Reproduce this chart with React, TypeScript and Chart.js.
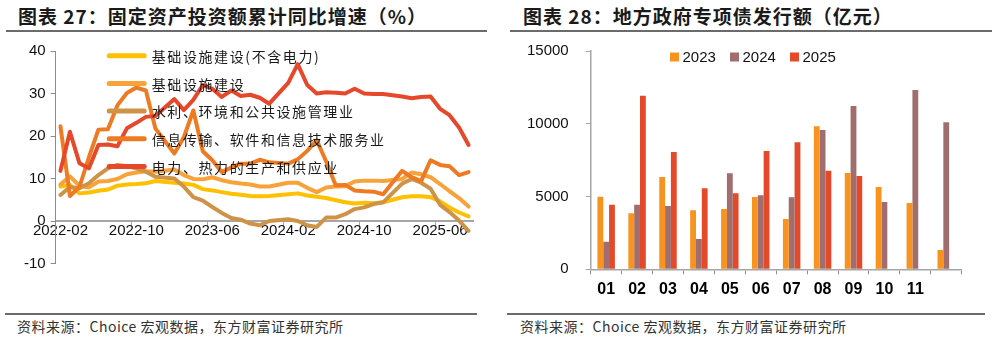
import React, { useEffect, useRef } from 'react';
import { Chart, registerables } from 'chart.js';

Chart.register(...registerables);

// ---------- Left chart data: 固定资产投资额累计同比增速（%） ----------
const months: string[] = [
  '2022-02', '2022-03', '2022-04', '2022-05', '2022-06', '2022-07', '2022-08', '2022-09', '2022-10', '2022-11', '2022-12',
  '2023-01', '2023-02', '2023-03', '2023-04', '2023-05', '2023-06', '2023-07', '2023-08', '2023-09', '2023-10', '2023-11', '2023-12',
  '2024-01', '2024-02', '2024-03', '2024-04', '2024-05', '2024-06', '2024-07', '2024-08', '2024-09', '2024-10', '2024-11', '2024-12',
  '2025-01', '2025-02', '2025-03', '2025-04', '2025-05', '2025-06', '2025-07', '2025-08', '2025-09',
];
const monthTickEvery = 8;

const infraExPower: (number | null)[] = [
  8.1, 8.5, 6.5, 6.7, 7.1, 7.4, 8.3, 8.6, 8.7, 8.9, 9.4,
  null, 9.0, 8.8, 8.5, 7.5, 7.2, 6.8, 6.4, 6.2, 5.9, 5.8, 5.9,
  null, 6.3, 6.5, 6.0, 5.7, 5.4, 4.9, 4.4, 4.1, 4.3, 4.2, 4.4,
  null, 5.6, 5.8, 5.8, 5.6, 4.6, 3.2, 2.0, 1.1,
];
const infraTotal: (number | null)[] = [
  8.6, 10.5, 8.3, 7.9, 9.3, 9.4, 9.9, 11.0, 11.4, 11.7, 11.6,
  null, 12.1, 10.8, 9.9, 9.8, 10.3, 9.6, 9.1, 8.8, 8.6, 8.1, 8.1,
  null, 9.0, 9.0, 7.8, 6.8, 7.9, 8.1, 8.2, 9.3, 9.5, 9.5, 9.4,
  null, 9.9, 11.4, 11.0, 10.3, 8.7, 7.0, 5.4, 3.4,
];
const waterEnv: (number | null)[] = [
  6.1, 8.0, 7.7, 8.9, 10.8, 12.4, 13.2, 12.9, 12.4, 11.6, 10.4,
  null, 10.0, 8.1, 5.6, 4.8, 3.3, 1.9, 0.7, 0.3, -0.6, -1.0, 0.0,
  null, 0.4, 0.0, -1.0, -1.4, 0.8, 0.8, 1.6, 2.8, 3.2, 4.0, 4.4,
  null, 8.8, 9.9, 9.0, 7.6, 3.8, 2.1, 0.1, -2.3,
];
const infoTech: (number | null)[] = [
  22.3, 5.9, 8.0, 15.0, 21.5, 21.6, 27.2, 30.1, 31.4, 30.7, 21.8,
  null, 15.9, 19.7, 26.0, 16.4, 14.3, 11.5, 12.6, 13.5, 13.5, 14.4, 13.8,
  null, 13.5, 14.5, 16.5, 19.0, 14.0, 8.4, 8.5, 7.2, 7.0, 6.9, 6.3,
  null, 11.8, 10.3, 9.4, 14.3, 13.2, 12.9, 10.8, 11.5,
];
const powerHeat: (number | null)[] = [
  11.8, 21.0, 13.6, 12.4, 17.9, 18.0, 17.6, 21.8, 23.1, 24.5, 24.7,
  null, 28.7, 26.1, 28.5, 32.0, 31.1, 29.2, 30.7, 29.4, 29.7, 29.0, 27.6,
  null, 32.5, 36.9, 32.0, 30.0, 30.3, 30.2, 30.0, 31.1, 30.0, 29.9, 29.9,
  null, 29.3, 28.9, 29.2, 29.3, 26.4, 24.9, 22.0, 17.9,
];
const lineNames: string[] = [
  '基础设施建设(不含电力)',
  '基础设施建设',
  '水利、环境和公共设施管理业',
  '信息传输、软件和信息技术服务业',
  '电力、热力的生产和供应业',
];
const lineSeries = [infraExPower, infraTotal, waterEnv, infoTech, powerHeat];
const lineColors: string[] = ['#FFC000', '#F8A23A', '#CF9348', '#EE7B24', '#E5482A'];
const pctTicks = { min: -10, max: 40, step: 10 };

// ---------- Right chart data: 地方政府专项债发行额（亿元） ----------
const bondMonths: string[] = ['01', '02', '03', '04', '05', '06', '07', '08', '09', '10', '11', ''];
const bond2023: (number | null)[] = [4990, 3850, 6340, 4055, 4145, 4970, 3455, 9825, 6615, 5655, 4555, 1325];
const bond2024: (number | null)[] = [1900, 4440, 4350, 2080, 6595, 5085, 4945, 9570, 11220, 4625, 12320, 10100];
const bond2025: (number | null)[] = [4440, 11930, 8060, 5565, 5220, 8130, 8730, 6775, 6410, null, null, null];
const bondYears: string[] = ['2023', '2024', '2025'];
const bondColors: string[] = ['#F7931E', '#A06E6E', '#E4492A'];
const bondTicks = { min: 0, max: 15000, step: 5000 };

const TICK_FONT = '"Liberation Sans", Arial, sans-serif';
const CJK_FONT = '"Noto Sans CJK SC", sans-serif';
const AXIS_GRAY = '#A6A6A6';

const lineLegendPlugin = {
  id: 'lineLegendInside',
  afterDraw(chart: any) {
    const { ctx, chartArea } = chart;
    ctx.save();
    chart.data.datasets.forEach((ds: any, i: number) => {
      const y = chartArea.top + 4.7 + i * 27.7;
      const x0 = chartArea.left + 53.5;
      ctx.strokeStyle = ds.borderColor;
      ctx.lineWidth = 5;
      ctx.lineCap = 'round';
      ctx.beginPath();
      ctx.moveTo(x0, y);
      ctx.lineTo(x0 + 35, y);
      ctx.stroke();
      ctx.fillStyle = '#1a1a1a';
      ctx.font = '14px ' + CJK_FONT;
      (ctx as any).letterSpacing = '1.6px';
      ctx.textBaseline = 'middle';
      ctx.textAlign = 'left';
      ctx.fillText(ds.label, x0 + 42.5, y + 1);
    });
    ctx.restore();
  },
};

const barLegendPlugin = {
  id: 'barLegendInside',
  afterDraw(chart: any) {
    const { ctx, chartArea } = chart;
    ctx.save();
    chart.data.datasets.forEach((ds: any, i: number) => {
      const x = chartArea.left + 79.3 + i * 60;
      const y = chartArea.top + 6;
      ctx.fillStyle = ds.backgroundColor;
      ctx.fillRect(x, y - 4.5, 9, 9);
      ctx.fillStyle = '#111';
      ctx.font = '15px ' + TICK_FONT;
      ctx.textBaseline = 'middle';
      ctx.textAlign = 'left';
      ctx.fillText(ds.label, x + 12.5, y + 0.5);
    });
    ctx.restore();
  },
};

function LineChart() {
  const ref = useRef<HTMLCanvasElement | null>(null);
  useEffect(() => {
    if (!ref.current) return;
    const chart = new Chart(ref.current, {
      type: 'line',
      data: {
        labels: months,
        datasets: lineSeries.map((s, i) => ({
          label: lineNames[i],
          data: s,
          borderColor: lineColors[i],
          backgroundColor: lineColors[i],
          borderWidth: 4,
          pointRadius: 0,
          tension: 0,
          spanGaps: true,
          borderJoinStyle: 'round' as const,
          borderCapStyle: 'round' as const,
          order: lineSeries.length - i,
        })),
      },
      options: {
        animation: false,
        responsive: false,
        maintainAspectRatio: false,
        layout: { padding: { left: 0, right: 16.7, top: 13, bottom: 19.5 } },
        plugins: { legend: { display: false }, tooltip: { enabled: false }, title: { display: false } },
        scales: {
          x: {
            type: 'category',
            position: { y: 0 } as any,
            offset: true,
            grid: {
              offset: true,
              drawOnChartArea: false,
              tickLength: 5,
              color: (c: any) => (typeof c.index === 'number' && c.index % monthTickEvery === 0 ? AXIS_GRAY : 'rgba(0,0,0,0)'),
            },
            border: { color: AXIS_GRAY, width: 2 },
            ticks: {
              autoSkip: false,
              maxRotation: 0,
              minRotation: 0,
              padding: -4,
              color: '#111',
              font: { family: TICK_FONT, size: 15 },
              callback: (_v: any, idx: number) => (idx % monthTickEvery === 0 ? months[idx] : ''),
            },
          },
          y: {
            min: pctTicks.min,
            max: pctTicks.max,
            ticks: {
              stepSize: pctTicks.step,
              padding: 5,
              color: '#111',
              font: { family: TICK_FONT, size: 15 },
              callback: (v: any) => String(v),
            },
            grid: { drawOnChartArea: false, tickLength: 5, color: '#8C8C8C' },
            border: { color: '#8C8C8C', width: 1 },
            afterFit: (s: any) => {
              s.width = 55.7;
              s.paddingTop = 0;
              s.paddingBottom = 0;
            },
          },
        },
      },
      plugins: [lineLegendPlugin],
    } as any);
    return () => chart.destroy();
  }, []);
  return <canvas ref={ref} width={490} height={245} style={{ position: 'absolute', left: 0, top: 38, width: 490, height: 245 }} />;
}

function BarChart() {
  const ref = useRef<HTMLCanvasElement | null>(null);
  useEffect(() => {
    if (!ref.current) return;
    const series = [bond2023, bond2024, bond2025];
    const chart = new Chart(ref.current, {
      type: 'bar',
      data: {
        labels: bondMonths,
        datasets: series.map((s, i) => ({
          label: bondYears[i],
          data: s,
          backgroundColor: bondColors[i],
          borderWidth: 0,
          categoryPercentage: 0.565,
          barPercentage: 1.0,
        })),
      },
      options: {
        animation: false,
        responsive: false,
        maintainAspectRatio: false,
        layout: { padding: { left: 0, right: 28.3, top: 13, bottom: 0 } },
        plugins: { legend: { display: false }, tooltip: { enabled: false }, title: { display: false } },
        scales: {
          x: {
            grid: { offset: true, drawOnChartArea: false, tickLength: 5, color: '#8C8C8C' },
            border: { color: AXIS_GRAY, width: 1.5 },
            ticks: {
              autoSkip: false,
              maxRotation: 0,
              padding: 5.5,
              color: '#000',
              font: { family: TICK_FONT, size: 16, weight: 'bold' },
            },
            afterFit: (s: any) => {
              s.height = 30.7;
            },
          },
          y: {
            min: bondTicks.min,
            max: bondTicks.max,
            ticks: {
              stepSize: bondTicks.step,
              padding: 17,
              color: '#111',
              font: { family: TICK_FONT, size: 15 },
              callback: (v: any) => String(v),
            },
            grid: { drawOnChartArea: false, tickLength: 5, color: AXIS_GRAY },
            border: { color: AXIS_GRAY, width: 1.5 },
            afterFit: (s: any) => {
              s.width = 90.7;
              s.paddingTop = 0;
              s.paddingBottom = 0;
            },
          },
        },
      },
      plugins: [barLegendPlugin],
    } as any);
    return () => chart.destroy();
  }, []);
  return <canvas ref={ref} width={490} height={262} style={{ position: 'absolute', left: 500, top: 38, width: 490, height: 262 }} />;
}

const titleStyle: React.CSSProperties = {
  position: 'absolute',
  top: 4,
  fontFamily: CJK_FONT,
  fontWeight: 700,
  fontSize: 19,
  lineHeight: '24px',
  letterSpacing: 1,
  color: '#1a1a1a',
  whiteSpace: 'nowrap',
};
const sourceStyle: React.CSSProperties = {
  position: 'absolute',
  top: 316,
  fontFamily: CJK_FONT,
  fontSize: 14,
  lineHeight: '20px',
  letterSpacing: 0.5,
  color: '#333',
  whiteSpace: 'nowrap',
};
const rule = (left: number, top: number, width: number): React.CSSProperties => ({
  position: 'absolute',
  left,
  top,
  width,
  height: 2,
  background: '#6b6b6b',
});

export default function App() {
  return (
    <div style={{ position: 'fixed', left: 0, top: 0, width: 997, height: 338, background: '#fff', overflow: 'hidden' }}>
      <div style={{ ...titleStyle, left: 18 }}>图表 27：固定资产投资额累计同比增速（%）</div>
      <div style={{ ...titleStyle, left: 523 }}>图表 28：地方政府专项债发行额（亿元）</div>
      <div style={rule(6, 30, 481)} />
      <div style={rule(510, 30, 482)} />
      <LineChart />
      <BarChart />
      <div style={rule(5, 312.5, 472)} />
      <div style={rule(507, 312.5, 478)} />
      <div style={{ ...sourceStyle, left: 17 }}>资料来源：Choice 宏观数据，东方财富证券研究所</div>
      <div style={{ ...sourceStyle, left: 520 }}>资料来源：Choice 宏观数据，东方财富证券研究所</div>
    </div>
  );
}
